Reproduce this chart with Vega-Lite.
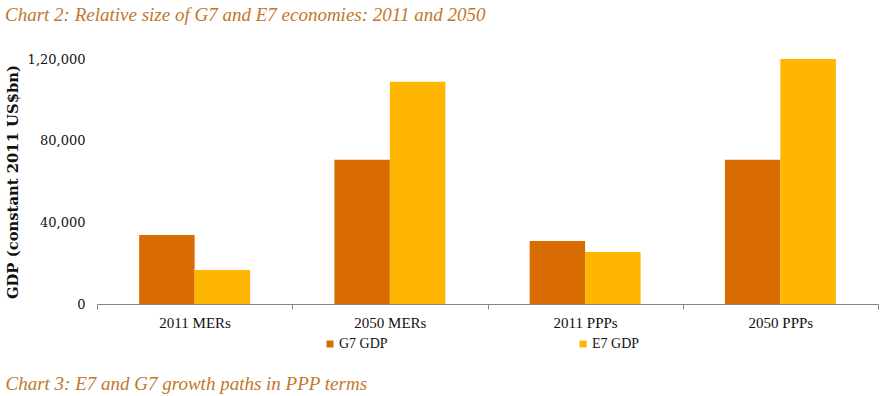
{
  "$schema": "https://vega.github.io/schema/vega-lite/v6.json",
  "width": 781,
  "height": 245,
  "autosize": {"type": "none"},
  "padding": {"left": 97, "top": 59, "right": 7, "bottom": 92},
  "background": "white",
  "title": {
    "text": "Chart 2: Relative size of G7 and E7 economies: 2011 and 2050",
    "anchor": "start",
    "frame": "group",
    "dx": -92,
    "font": "Liberation Serif",
    "fontStyle": "italic",
    "fontWeight": "normal",
    "fontSize": 19,
    "color": "#C2772C",
    "offset": 28
  },
  "data": {
    "values": [
      {"category": "2011 MERs", "series": "G7 GDP", "gdp": 33800},
      {"category": "2011 MERs", "series": "E7 GDP", "gdp": 16600},
      {"category": "2050 MERs", "series": "G7 GDP", "gdp": 70600},
      {"category": "2050 MERs", "series": "E7 GDP", "gdp": 108800},
      {"category": "2011 PPPs", "series": "G7 GDP", "gdp": 30800},
      {"category": "2011 PPPs", "series": "E7 GDP", "gdp": 25500},
      {"category": "2050 PPPs", "series": "G7 GDP", "gdp": 70600},
      {"category": "2050 PPPs", "series": "E7 GDP", "gdp": 120000}
    ]
  },
  "mark": {"type": "bar"},
  "encoding": {
    "x": {
      "field": "category",
      "type": "nominal",
      "sort": null,
      "scale": {"paddingInner": 0, "paddingOuter": 0},
      "axis": {
        "title": "Chart 3: E7 and G7 growth paths in PPP terms",
        "titleFont": "Liberation Serif",
        "titleFontStyle": "italic",
        "titleFontWeight": "normal",
        "titleFontSize": 19,
        "titleColor": "#C2772C",
        "titleAnchor": "start",
        "titleAlign": "left",
        "titleBaseline": "middle",
        "titleX": -92,
        "titleY": 79,
        "labelAngle": 0,
        "labelFont": "Liberation Serif",
        "labelFontSize": 15,
        "labelColor": "#111111",
        "labelPadding": 6,
        "tickBand": "extent",
        "tickSize": 5,
        "tickColor": "#868686",
        "domainColor": "#868686",
        "grid": false
      }
    },
    "xOffset": {
      "field": "series",
      "type": "nominal",
      "sort": ["G7 GDP", "E7 GDP"],
      "scale": {"paddingInner": 0, "paddingOuter": 0.76}
    },
    "y": {
      "field": "gdp",
      "type": "quantitative",
      "scale": {"domain": [0, 120000], "nice": false},
      "axis": {
        "title": "GDP (constant 2011 US$bn)",
        "titleFont": "DejaVu Serif",
        "titleFontWeight": "bold",
        "titleFontSize": 14.8,
        "titleColor": "#111111",
        "titlePadding": 7,
        "values": [0, 40000, 80000, 120000],
        "labelExpr": "datum.value == 120000 ? '1,20,000' : format(datum.value, ',')",
        "labelFont": "DejaVu Serif",
        "labelFontSize": 13,
        "labelColor": "#111111",
        "labelPadding": 12,
        "domain": false,
        "ticks": false,
        "grid": false
      }
    },
    "color": {
      "field": "series",
      "type": "nominal",
      "sort": ["G7 GDP", "E7 GDP"],
      "scale": {"domain": ["G7 GDP", "E7 GDP"], "range": ["#D96C00", "#FFB600"]},
      "legend": {
        "title": null,
        "orient": "none",
        "legendX": 226,
        "legendY": 278,
        "direction": "horizontal",
        "columns": 2,
        "columnPadding": 188,
        "symbolType": "square",
        "symbolSize": 49,
        "symbolStrokeWidth": 0,
        "symbolOffset": 0,
        "labelOffset": 2,
        "labelFont": "Liberation Serif",
        "labelFontSize": 14,
        "labelColor": "#111111"
      }
    }
  },
  "config": {"view": {"stroke": null}}
}
